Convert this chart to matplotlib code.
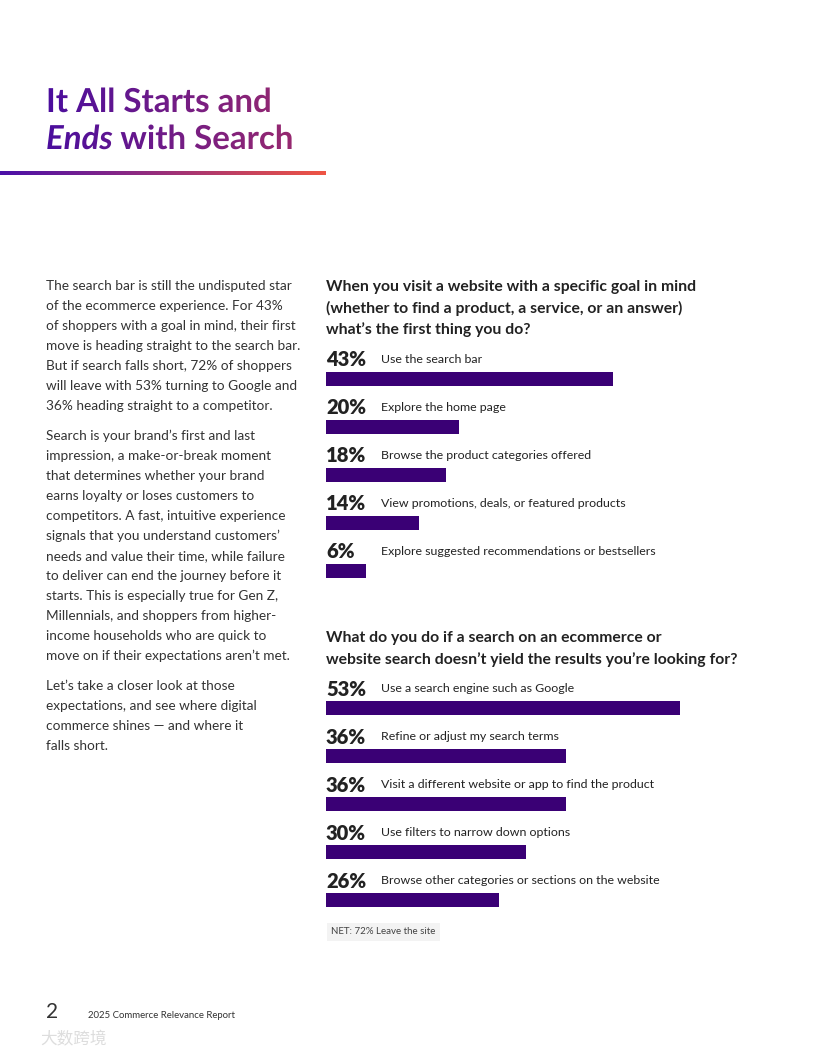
import matplotlib.pyplot as plt
import numpy as np
from matplotlib.textpath import TextPath
from matplotlib.font_manager import FontProperties
from matplotlib.patches import PathPatch
from matplotlib.transforms import Affine2D
from matplotlib.colors import LinearSegmentedColormap

plt.rcParams['font.family'] = ['Lato', 'DejaVu Sans']

# data
q1_title = ["When you visit a website with a specific goal in mind",
            "(whether to find a product, a service, or an answer)",
            "what\u2019s the first thing you do?"]
q1_labels = ["Use the search bar", "Explore the home page",
             "Browse the product categories offered",
             "View promotions, deals, or featured products",
             "Explore suggested recommendations or bestsellers"]
q1_values = [43, 20, 18, 14, 6]

q2_title = ["What do you do if a search on an ecommerce or",
            "website search doesn\u2019t yield the results you\u2019re looking for?"]
q2_labels = ["Use a search engine such as Google",
             "Refine or adjust my search terms",
             "Visit a different website or app to find the product",
             "Use filters to narrow down options",
             "Browse other categories or sections on the website"]
q2_values = [53, 36, 36, 30, 26]

body = [
    ["The search bar is still the undisputed star",
     "of the ecommerce experience. For 43%",
     "of shoppers with a goal in mind, their first",
     "move is heading straight to the search bar.",
     "But if search falls short, 72% of shoppers",
     "will leave with 53% turning to Google and",
     "36% heading straight to a competitor."],
    ["Search is your brand\u2019s first and last",
     "impression, a make-or-break moment",
     "that determines whether your brand",
     "earns loyalty or loses customers to",
     "competitors. A fast, intuitive experience",
     "signals that you understand customers\u2019",
     "needs and value their time, while failure",
     "to deliver can end the journey before it",
     "starts. This is especially true for Gen Z,",
     "Millennials, and shoppers from higher-",
     "income households who are quick to",
     "move on if their expectations aren\u2019t met."],
    ["Let\u2019s take a closer look at those",
     "expectations, and see where digital",
     "commerce shines \u2014 and where it",
     "falls short."],
]

W, H = 816, 1056
fig = plt.figure(figsize=(W / 100, H / 100), dpi=100)

# full-page axes in pixel coordinates (y down)
bg = fig.add_axes([0, 0, 1, 1])
bg.axis('off')

# gradient title
title_cmap = LinearSegmentedColormap.from_list('t', ['#4a0e9e', '#9c2b6d'])
bold = FontProperties(family='Lato', weight='bold', size=33)
boldit = FontProperties(family='Lato', weight='bold', style='italic', size=33)

def place(tp, x, y):
    return tp.transformed(Affine2D().scale(1, -1).translate(x, y))

paths = []
paths.append(place(TextPath((0, 0), "It All Starts and", prop=bold), 46, 112))
p_ends = TextPath((0, 0), "Ends", prop=boldit)
paths.append(place(p_ends, 46, 149))
ends_w = p_ends.get_extents().x1
paths.append(place(TextPath((0, 0), " with Search", prop=bold), 46 + ends_w, 149))

grad = np.linspace(0, 1, 256).reshape(1, -1)
for p in paths:
    im = bg.imshow(grad, cmap=title_cmap, extent=[44, 310, 158, 78],
                   aspect='auto', zorder=3)
    patch = PathPatch(p, facecolor='none', edgecolor='none',
                      transform=bg.transData)
    bg.add_patch(patch)
    im.set_clip_path(patch)

# gradient rule
line_cmap = LinearSegmentedColormap.from_list('l', ['#4b10a8', '#9a2f7a', '#ef5544'])
bg.imshow(grad, cmap=line_cmap, extent=[0, 326, 175.5, 171.5], aspect='auto', zorder=3)
bg.set_xlim(0, W)
bg.set_ylim(H, 0)

# body text
y = 286
for para in body:
    for line in para:
        bg.text(46, y, line, fontsize=9.8, color='#333333', va='center', ha='left')
        y += 20
    y += 10

# question headings
for i, line in enumerate(q1_title):
    bg.text(326, 287 + i * 21.5, line, fontsize=11.3, fontweight='bold',
            color='#222222', va='center', ha='left')
for i, line in enumerate(q2_title):
    bg.text(326, 638 + i * 21.5, line, fontsize=11.3, fontweight='bold',
            color='#222222', va='center', ha='left')

bar_color = '#3a0075'
px_per_pct = 6.67
ax_w = 440

def bar_block(top, labels, values):
    ax = fig.add_axes([326 / W, 1 - (top + 252) / H, ax_w / W, 252 / H])
    ax.set_xlim(0, ax_w / px_per_pct)
    ax.set_ylim(4.75, -0.5)
    ax.axis('off')
    ypos = np.arange(len(values))
    ax.barh(ypos + 0.4, values, height=0.28, color=bar_color, align='center')
    for yy, v, lab in zip(ypos, values, labels):
        ax.text(0, yy, f"{v}%", fontsize=14.5, fontweight='heavy', color='#222222',
                va='center', ha='left')
        ax.text(55 / px_per_pct, yy - 0.02, lab, fontsize=8.9, color='#222222',
                va='center', ha='left')
    return ax

bar_block(336, q1_labels, q1_values)
bar_block(665, q2_labels, q2_values)

# NET note
bg.text(331, 932, "NET: 72% Leave the site", fontsize=7, color='#444444',
        va='center', ha='left',
        bbox=dict(boxstyle='square,pad=0.45', facecolor='#f3f3f3', edgecolor='none'))

# footer
bg.text(46, 1012, "2", fontsize=15, color='#333333', va='center', ha='left')
bg.text(88, 1016, "2025 Commerce Relevance Report", fontsize=6.9, color='#333333',
        va='center', ha='left')
bg.text(40, 1040, "\u5927\u6570\u8de8\u5883", fontsize=12, color='#dddddd',
        va='center', ha='left', family=['Noto Sans CJK SC', 'DejaVu Sans'])

fig.savefig('out.png', dpi=100)
